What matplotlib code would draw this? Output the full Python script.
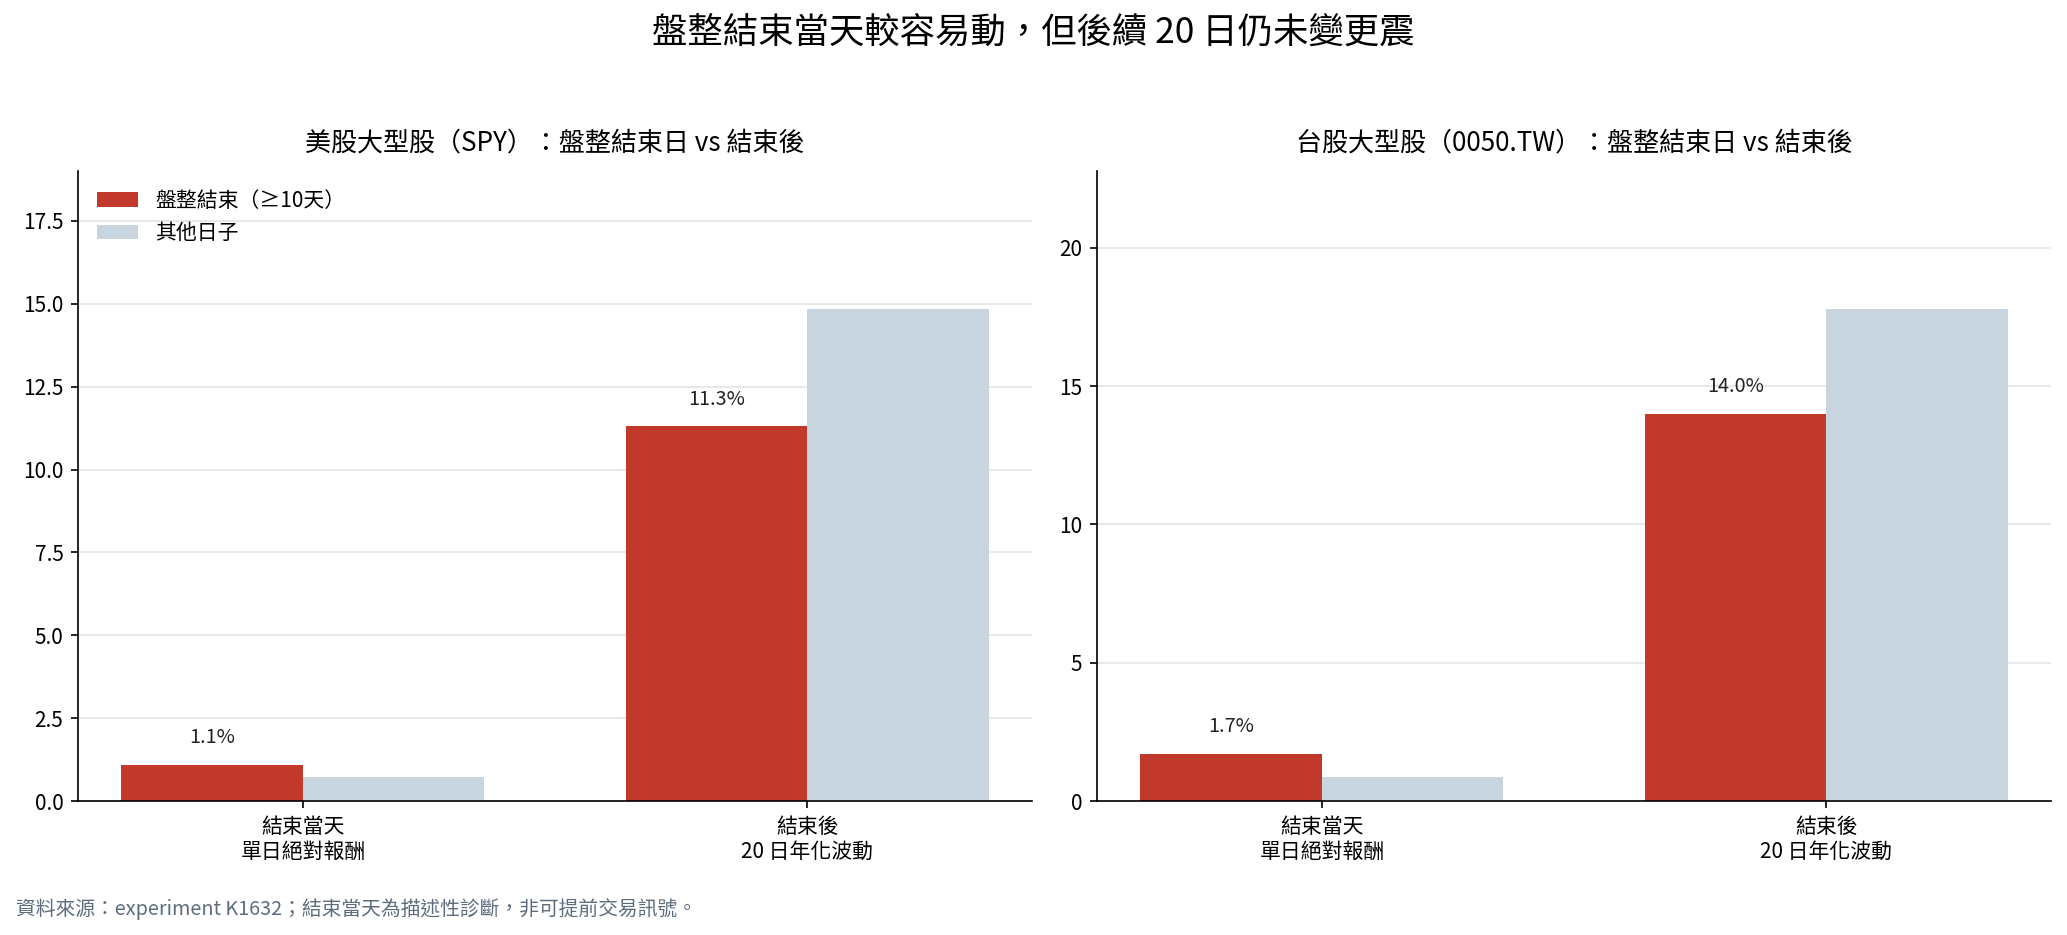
import numpy as np
import matplotlib
matplotlib.use("Agg")
import matplotlib.pyplot as plt

plt.rcParams['font.family'] = ['Noto Sans CJK TC', 'DejaVu Sans']
plt.rcParams['axes.unicode_minus'] = False

# 資料
categories = ["結束當天\n單日絕對報酬", "結束後\n20 日年化波動"]
series_names = ["盤整結束（≥10天）", "其他日子"]
spy_end = [1.1, 11.3]
spy_other = [0.71, 14.85]
tw_end = [1.7, 14.0]
tw_other = [0.86, 17.8]

panel_titles = ["美股大型股（SPY）：盤整結束日 vs 結束後",
                "台股大型股（0050.TW）：盤整結束日 vs 結束後"]
main_title = "盤整結束當天較容易動，但後續 20 日仍未變更震"
footer = "資料來源：experiment K1632；結束當天為描述性診斷，非可提前交易訊號。"

red = "#c0392b"
grey = "#c8d5df"

W, H = 2067, 935
fig = plt.figure(figsize=(W / 150, H / 150), dpi=150)

ax1 = fig.add_axes([78 / W, 1 - 801 / H, 954 / W, 630 / H])
ax2 = fig.add_axes([1097 / W, 1 - 801 / H, 954 / W, 630 / H])


def draw_panel(ax, end_vals, other_vals, title, legend=False):
    x = np.arange(len(categories))
    w = 0.36
    b1 = ax.bar(x - w / 2, end_vals, w, color=red, label=series_names[0], zorder=2)
    ax.bar(x + w / 2, other_vals, w, color=grey, label=series_names[1], zorder=2)
    for rect, v in zip(b1, end_vals):
        ax.annotate(f"{v:.1f}%", (rect.get_x() + rect.get_width() / 2, rect.get_height()),
                    xytext=(0, 8), textcoords="offset points",
                    ha="center", va="bottom", fontsize=9.5, color="#222222")
    ax.set_xticks(x)
    ax.set_xticklabels(categories, fontsize=10)
    ax.set_ylim(0, max(max(end_vals), max(other_vals)) * 1.28)
    ax.tick_params(axis="y", labelsize=10)
    ax.grid(axis="y", color="#e8e8e8", linewidth=1, zorder=0)
    ax.set_axisbelow(True)
    for s in ["top", "right"]:
        ax.spines[s].set_visible(False)
    ax.set_title(title, fontsize=12.5, pad=10)
    if legend:
        ax.legend(loc="upper left", frameon=False, fontsize=10)


draw_panel(ax1, spy_end, spy_other, panel_titles[0], legend=True)
draw_panel(ax2, tw_end, tw_other, panel_titles[1])

fig.text(0.5, 1 - 33 / H, main_title, ha="center", va="center", fontsize=17)
fig.text(16 / W, 1 - 909 / H, footer, ha="left", va="center", fontsize=9.5, color="#5d6d7e")

fig.savefig("out.png", dpi=150)
